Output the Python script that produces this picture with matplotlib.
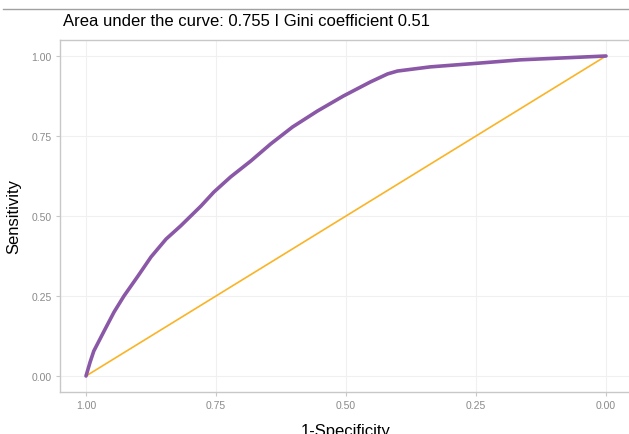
import numpy as np
from matplotlib import pyplot as plt
from matplotlib.lines import Line2D

plt.rcParams['font.family'] = ['Liberation Sans', 'DejaVu Sans']

# данные ROC-кривой
specificity = [1.0, 0.992, 0.985, 0.965, 0.946, 0.927, 0.900, 0.875, 0.846, 0.818,
               0.779, 0.754, 0.722, 0.683, 0.645, 0.603, 0.555, 0.505,
               0.453, 0.420, 0.401, 0.338, 0.250, 0.165, 0.0]
sensitivity = [0.0, 0.044, 0.078, 0.141, 0.200, 0.250, 0.3125, 0.372, 0.428, 0.469,
               0.531, 0.575, 0.622, 0.672, 0.725, 0.778, 0.828, 0.875,
               0.919, 0.944, 0.953, 0.966, 0.977, 0.988, 1.0]
diag_x = [1.0, 0.0]
diag_y = [0.0, 1.0]
ticks = [1.00, 0.75, 0.50, 0.25, 0.00]
auc = 0.755
gini = 0.51

fig = plt.figure(figsize=(6.29, 4.35), dpi=100)
W, H = 629, 435
ax = fig.add_axes([60 / W, (H - 393) / H, (632 - 60) / W, (393 - 41) / H])

ax.plot(diag_x, diag_y, color='#fbb326', lw=1.2, zorder=2)
ax.plot(specificity, sensitivity, color='#8a58a6', lw=2.6, zorder=3,
        solid_capstyle='round', solid_joinstyle='round')

ax.set_xlim(1.05, -0.05)
ax.set_ylim(-0.05, 1.05)
ax.set_xticks(ticks)
ax.set_yticks(ticks)
ax.set_xticklabels(['%.2f' % t for t in ticks])
ax.set_yticklabels(['%.2f' % t for t in ticks])

# оформление в духе ggplot theme_light
ax.grid(True, color='#f0f0f0', lw=0.8)
ax.set_axisbelow(True)
for s in ax.spines.values():
    s.set_color('#c8c8c8')
    s.set_linewidth(1.0)
ax.tick_params(colors='#c8c8c8', labelcolor='#8a8a8a', labelsize=7.5,
               length=3, width=0.8, pad=3)

ax.set_xlabel('1-Specificity', fontsize=12, labelpad=9)
ax.set_ylabel('Sensitivity', fontsize=12, labelpad=7)

fig.text(63 / W, 1 - 21 / H, 'Area under the curve: %.3f I Gini coefficient %.2f' % (auc, gini),
         fontsize=12, va='center', ha='left')

fig.add_artist(Line2D([3 / W, 1.0], [1 - 9.5 / H, 1 - 9.5 / H], color='#a0a0a0', lw=1.0))

fig.savefig('out.png', dpi=100)
